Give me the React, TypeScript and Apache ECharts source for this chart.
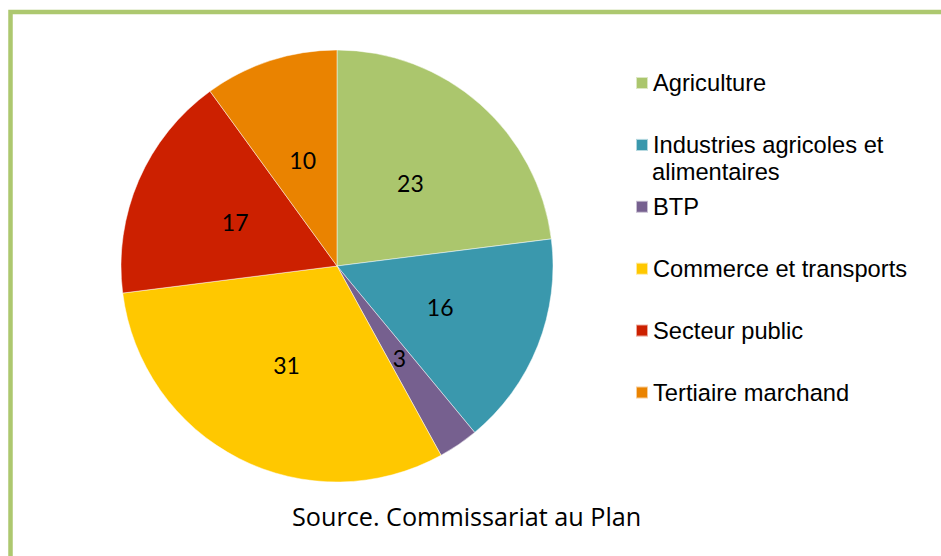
import React, { useEffect, useRef } from "react";
import * as echarts from "echarts";

const categories = [
  "Agriculture",
  "Industries agricoles et alimentaires",
  "BTP",
  "Commerce et transports",
  "Secteur public",
  "Tertiaire marchand",
];
const values = [23, 16, 3, 31, 17, 10];
const colors = ["#ABC66D", "#3A98AD", "#76608F", "#FFC800", "#CC2000", "#EA8300"];
const sourceText = "Source. Commissariat au Plan";

export default function App() {
  const ref = useRef<HTMLDivElement>(null);
  useEffect(() => {
    if (!ref.current) return;
    const chart = echarts.init(ref.current, undefined, { renderer: "svg" });
    chart.setOption({
      animation: false,
      backgroundColor: "#ffffff",
      color: colors,
      legend: {
        orient: "vertical",
        left: 630,
        top: 65,
        padding: 5,
        itemWidth: 12,
        itemHeight: 12,
        itemGap: 35.9,
        icon: "rect",
        selectedMode: false,
        formatter: (name: string) =>
          name === "Industries agricoles et alimentaires" ? "Industries agricoles et" : name,
        textStyle: {
          fontFamily: "Liberation Sans",
          fontSize: 23.7,
          lineHeight: 26,
          color: "#000",
        },
        data: categories,
      },
      graphic: [
        {
          type: "rect",
          silent: true,
          shape: { x: 10.5, y: 12, width: 1000, height: 1000 },
          style: { fill: "none", stroke: "#ADC86F", lineWidth: 4.5 },
        },
        {
          type: "text",
          left: 652,
          top: 160,
          style: {
            text: "alimentaires",
            font: "23.7px 'Liberation Sans'",
            fill: "#000",
          },
        },
        {
          type: "text",
          left: 292,
          top: 503,
          style: {
            text: sourceText,
            font: "25.2px 'Open Sans'",
            fill: "#000",
          },
        },
      ],
      series: [
        {
          type: "pie",
          center: [337, 266],
          radius: [0, 216],
          startAngle: 90,
          clockwise: true,
          avoidLabelOverlap: false,
          label: {
            show: true,
            position: "inside",
            formatter: "{c}",
            fontFamily: "Lato",
            fontSize: 23,
            color: "#000",
          },
          labelLine: { show: false },
          itemStyle: { borderColor: "rgba(255,255,255,0.6)", borderWidth: 0.8 },
          emphasis: { disabled: true },
          data: categories.map((c, i) => ({ name: c, value: values[i] })),
        },
      ],
    });
    return () => chart.dispose();
  }, []);
  return (
    <div
      ref={ref}
      style={{ position: "fixed", left: 0, top: 0, width: 941, height: 556 }}
    />
  );
}
